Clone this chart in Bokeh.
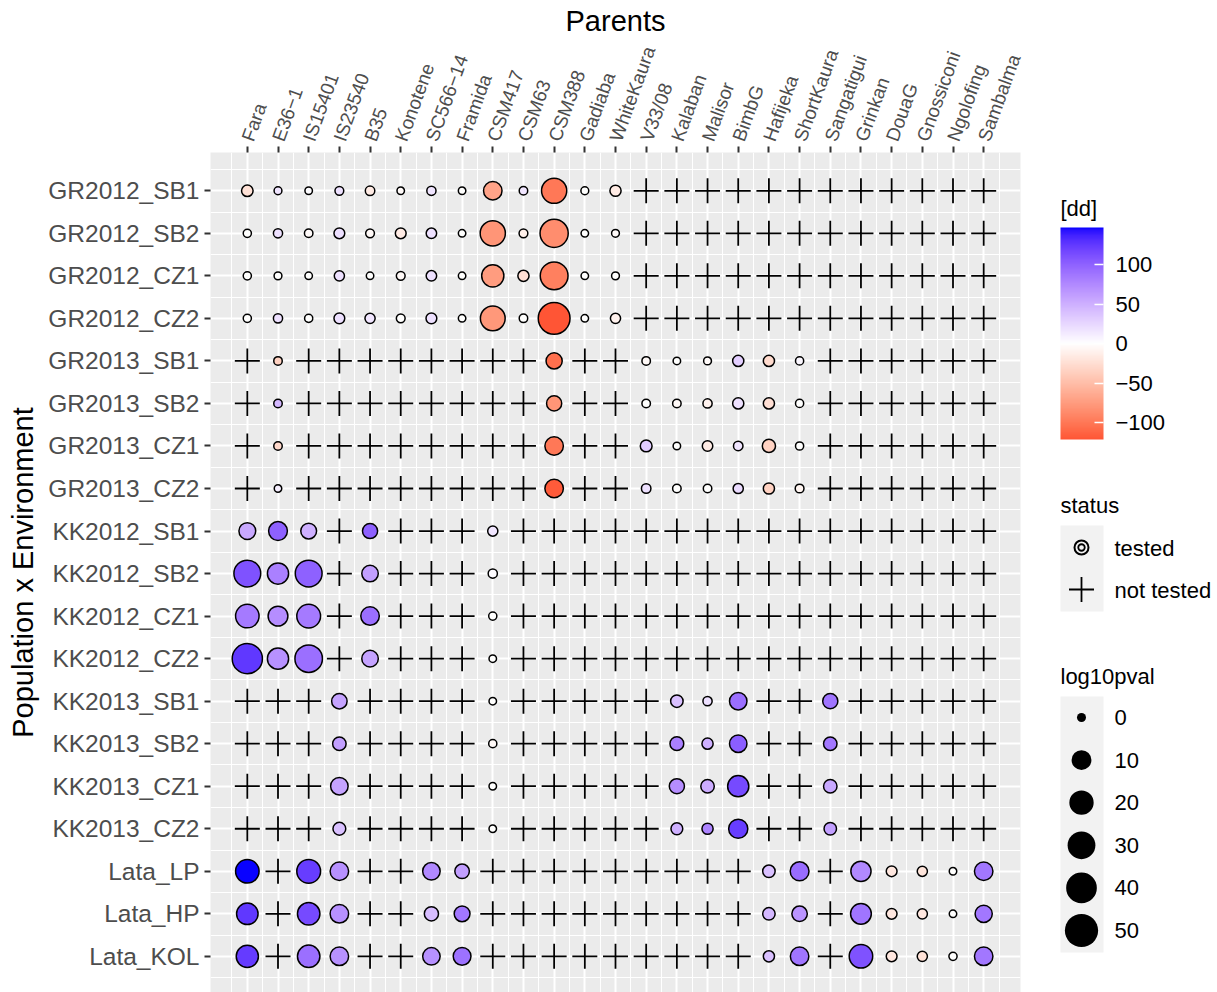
import math
from bokeh.plotting import figure
from bokeh.layouts import row
from bokeh.models import (ColumnDataSource, FixedTicker, Range1d, LinearColorMapper,
                          ColorBar)
from bokeh.transform import transform
from bokeh.core.properties import value
from bokeh.embed import file_html
from bokeh.resources import INLINE

FONT = "Liberation Sans"

# ---- categories -------------------------------------------------------------
parents = ["Fara", "E36\u22121", "IS15401", "IS23540", "B35", "Konotene", "SC566\u221214",
           "Framida", "CSM417", "CSM63", "CSM388", "Gadiaba", "WhiteKaura", "V33/08",
           "Kalaban", "Malisor", "BimbG", "Hafijeka", "ShortKaura", "Sangatigui",
           "Grinkan", "DouaG", "Gnossiconi", "Ngolofing", "Sambalma"]

envs = ["GR2012_SB1", "GR2012_SB2", "GR2012_CZ1", "GR2012_CZ2",
        "GR2013_SB1", "GR2013_SB2", "GR2013_CZ1", "GR2013_CZ2",
        "KK2012_SB1", "KK2012_SB2", "KK2012_CZ1", "KK2012_CZ2",
        "KK2013_SB1", "KK2013_SB2", "KK2013_CZ1", "KK2013_CZ2",
        "Lata_LP", "Lata_HP", "Lata_KOL"]

# ---- tested parents per population, with dd and -log10(p) per environment ----
gr2012_envs = ["GR2012_SB1", "GR2012_SB2", "GR2012_CZ1", "GR2012_CZ2"]
gr2012_parents = parents[:13]
gr2012_dd = [
    [-22, 16, 2, 18, -15, -3, 16, 0, -70, 15, -100, 0, -15],
    [0, 18, -3, 20, -5, -15, 18, 0, -80, -12, -85, 0, -3],
    [0, 0, 0, 18, 0, -5, 18, 0, -75, -25, -95, 0, 0],
    [0, 18, 0, 20, 15, 0, 18, 0, -78, 0, -121.5, 0, -10],
]
gr2012_lp = [
    [1.4, 0.01, 0, 0.14, 0.34, 0, 0.25, 0, 10.3, 0.085, 26.6, 0.01, 1.16],
    [0.04, 0.25, 0.085, 0.93, 0.14, 0.93, 0.76, 0, 26.6, 0.14, 36.4, 0, 0.01],
    [0.04, 0.01, 0, 0.62, 0, 0.14, 0.76, 0, 18.4, 1.16, 35.0, 0, 0.01],
    [0.04, 0.25, 0.04, 0.93, 0.62, 0.14, 0.93, 0, 25.4, 0.085, 50.2, 0, 0.62],
]

gr2013_envs = ["GR2013_SB1", "GR2013_SB2", "GR2013_CZ1", "GR2013_CZ2"]
gr2013_parents = ["E36\u22121", "CSM388", "V33/08", "Kalaban", "Malisor", "BimbG",
                  "Hafijeka", "ShortKaura"]
gr2013_dd = [
    [-35, -105, -5, 0, -4, 30, -28, 5],
    [45, -80, 0, -5, -10, 18, -25, 0],
    [-30, -100, 32, 0, -15, 16, -35, 0],
    [10, -118, 18, 0, 0, 22, -35, -8],
]
gr2013_lp = [
    [0.085, 6.4, 0.085, 0, 0.01, 1.16, 1.16, 0.04],
    [0.085, 5.0, 0.085, 0.085, 0.25, 1.16, 1.16, 0.04],
    [0.085, 10.3, 1.57, 0, 0.76, 0.34, 2.76, 0.04],
    [0, 10.3, 0.34, 0.085, 0.085, 0.62, 1.16, 0.14],
]

kk2012_envs = ["KK2012_SB1", "KK2012_SB2", "KK2012_CZ1", "KK2012_CZ2"]
kk2012_parents = ["Fara", "E36\u22121", "IS15401", "B35", "CSM417"]
kk2012_dd = [
    [55, 100, 50, 100, 15],
    [110, 80, 100, 60, 3],
    [85, 72, 85, 92, 0],
    [125, 70, 92, 58, 0],
]
kk2012_lp = [
    [7.35, 10.9, 5.9, 5.0, 0.62],
    [31.7, 16.0, 31.7, 6.9, 0.25],
    [21.8, 12.9, 22.6, 10.3, 0.04],
    [43.8, 16.0, 34.0, 6.9, 0],
]

kk2013_envs = ["KK2013_SB1", "KK2013_SB2", "KK2013_CZ1", "KK2013_CZ2"]
kk2013_parents = ["IS23540", "CSM417", "Kalaban", "Malisor", "BimbG", "Sangatigui"]
kk2013_dd = [
    [58, 0, 40, 20, 92, 88],
    [60, -5, 80, 50, 102, 87],
    [58, 0, 72, 52, 115, 55],
    [40, 0, 50, 78, 122, 60],
]
kk2013_lp = [
    [5.4, 0, 2.1, 0.25, 8.5, 5.0],
    [3.06, 0.04, 3.37, 1.16, 8.5, 3.06],
    [8.5, 0, 5.0, 3.06, 16.0, 3.06],
    [2.4, 0, 1.57, 1.16, 11.6, 2.1],
]

lata_envs = ["Lata_LP", "Lata_HP", "Lata_KOL"]
lata_parents = ["Fara", "IS15401", "IS23540", "SC566\u221214", "Framida", "Hafijeka",
                "ShortKaura", "Grinkan", "DouaG", "Gnossiconi", "Ngolofing", "Sambalma"]
lata_dd = [
    [147, 122, 70, 75, 60, 40, 93, 75, -18, -20, 0, 87],
    [125, 115, 70, 42, 87, 45, 68, 88, -18, -18, 0, 87],
    [123, 92, 70, 70, 90, 40, 88, 110, -18, -22, 0, 87],
]
lata_lp = [
    [21.8, 22.6, 10.3, 8.5, 4.2, 2.1, 10.9, 13.7, 0.93, 0.62, 0, 10.3],
    [16.7, 19.1, 10.3, 3.8, 5.9, 2.1, 5.4, 15.0, 0.93, 0.62, 0, 8.0],
    [18.4, 19.1, 10.3, 8.5, 9.0, 1.16, 10.3, 21.8, 0.93, 0.62, 0.04, 10.3],
]

size_breaks = [0, 10, 20, 30, 40, 50]
dd_breaks = [-100, -50, 0, 50, 100]

groups = [
    (gr2012_envs, gr2012_parents, gr2012_dd, gr2012_lp),
    (gr2013_envs, gr2013_parents, gr2013_dd, gr2013_lp),
    (kk2012_envs, kk2012_parents, kk2012_dd, kk2012_lp),
    (kk2013_envs, kk2013_parents, kk2013_dd, kk2013_lp),
    (lata_envs, lata_parents, lata_dd, lata_lp),
]

# ---- diverging red-white-blue scale, interpolated in CIE Lab ----------------
def _lin(c):
    c = c / 255.0
    return c / 12.92 if c <= 0.04045 else ((c + 0.055) / 1.055) ** 2.4

def _gam(c):
    c = max(0.0, min(1.0, c))
    v = 12.92 * c if c <= 0.0031308 else 1.055 * c ** (1 / 2.4) - 0.055
    return int(round(max(0.0, min(1.0, v)) * 255))

WN = (0.95047, 1.0, 1.08883)

def rgb_to_lab(rgb):
    r, g, b = (_lin(c) for c in rgb)
    X = 0.4124564 * r + 0.3575761 * g + 0.1804375 * b
    Y = 0.2126729 * r + 0.7151522 * g + 0.0721750 * b
    Z = 0.0193339 * r + 0.1191920 * g + 0.9503041 * b
    def f(t):
        return t ** (1 / 3) if t > (6 / 29) ** 3 else t / (3 * (6 / 29) ** 2) + 4 / 29
    fx, fy, fz = f(X / WN[0]), f(Y / WN[1]), f(Z / WN[2])
    return (116 * fy - 16, 500 * (fx - fy), 200 * (fy - fz))

def lab_to_hex(lab):
    L, a, b = lab
    fy = (L + 16) / 116
    fx = fy + a / 500
    fz = fy - b / 200
    def finv(t):
        return t ** 3 if t > 6 / 29 else 3 * (6 / 29) ** 2 * (t - 4 / 29)
    X, Y, Z = WN[0] * finv(fx), WN[1] * finv(fy), WN[2] * finv(fz)
    r = 3.2404542 * X - 1.5371385 * Y - 0.4985314 * Z
    g = -0.9692660 * X + 1.8760108 * Y + 0.0415560 * Z
    bb = 0.0556434 * X - 0.2040259 * Y + 1.0572252 * Z
    return "#%02X%02X%02X" % (_gam(r), _gam(g), _gam(bb))

LOW, MID, HIGH = rgb_to_lab((255, 0, 0)), rgb_to_lab((255, 255, 255)), rgb_to_lab((0, 0, 255))

all_dd = [v for g in groups for rowv in g[2] for v in rowv]
dd_min, dd_max = min(all_dd), max(all_dd)
span = max(abs(dd_min), abs(dd_max))

def dd_colour(v):
    t = v / span
    end = HIGH if t > 0 else LOW
    t = abs(t)
    return lab_to_hex(tuple(MID[i] + (end[i] - MID[i]) * t for i in range(3)))

NPAL = 256
palette = [dd_colour(dd_min + (i + 0.5) * (dd_max - dd_min) / NPAL) for i in range(NPAL)]
mapper = LinearColorMapper(palette=palette, low=dd_min, high=dd_max)

def point_size(lp):
    # visible diameter grows with the square root of -log10(p)
    return 9 + 3.43 * math.sqrt(lp)

# ---- long tables ------------------------------------------------------------
px = {name: i + 1 for i, name in enumerate(parents)}
ey = {name: len(envs) - 1 - i for i, name in enumerate(envs)}

t_x, t_y, t_dd, t_lp, t_sz = [], [], [], [], []
tested = set()
for g_envs, g_par, g_dd, g_lp in groups:
    for e, drow, lrow in zip(g_envs, g_dd, g_lp):
        for par, d, l in zip(g_par, drow, lrow):
            t_x.append(px[par]); t_y.append(ey[e]); t_dd.append(d); t_lp.append(l)
            t_sz.append(point_size(l) - 1.5)
            tested.add((e, par))

n_x, n_y = [], []
for e in envs:
    for par in parents:
        if (e, par) not in tested:
            n_x.append(px[par]); n_y.append(ey[e])

src_t = ColumnDataSource(dict(x=t_x, y=t_y, dd=t_dd, lp=t_lp, sz=t_sz))
src_n = ColumnDataSource(dict(x=n_x, y=n_y))

# ---- main panel -------------------------------------------------------------
nP, nE = len(parents), len(envs)
xpad = 0.05 * (nP - 1)
ypad = 0.05 * (nE - 1)
TOP = 152
p = figure(width=1040, height=992, output_backend="svg", toolbar_location=None,
           x_range=Range1d(1 - xpad, nP + xpad),
           y_range=Range1d(-0.85, nE - 1 + ypad),
           x_axis_location="above",
           min_border_left=210, min_border_top=TOP, min_border_right=20,
           min_border_bottom=0)
p.background_fill_color = "#EBEBEB"
p.border_fill_color = "white"
p.outline_line_color = None

p.xaxis.ticker = FixedTicker(ticks=list(range(1, nP + 1)),
                             minor_ticks=[i + 0.5 for i in range(0, nP + 1)])
p.xaxis.major_label_overrides = {i + 1: name for i, name in enumerate(parents)}
p.xaxis.major_label_orientation = math.radians(70)
p.xaxis.axis_label = "Parents"

p.yaxis.ticker = FixedTicker(ticks=list(range(0, nE)),
                             minor_ticks=[i - 0.5 for i in range(0, nE + 1)])
p.yaxis.major_label_overrides = {ey[e]: e for e in envs}
p.yaxis.axis_label = "Population x Environment"

for ax in (p.xaxis[0], p.yaxis[0]):
    ax.axis_line_color = None
    ax.major_tick_line_color = "#333333"
    ax.major_tick_line_width = 2
    ax.major_tick_out = 6
    ax.major_tick_in = 0
    ax.minor_tick_out = 0
    ax.minor_tick_in = 0
    ax.major_label_text_font = FONT
    ax.major_label_text_color = "#4D4D4D"
    ax.axis_label_text_font = FONT
    ax.axis_label_text_font_style = "normal"
    ax.axis_label_text_font_size = "29px"
    ax.axis_label_text_color = "black"
    ax.major_label_standoff = 5
p.xaxis.major_label_text_font_size = "19px"
p.xaxis.major_label_standoff = 6
p.xaxis.axis_label_standoff = 0
p.yaxis.major_label_text_font_size = "24.5px"
p.yaxis.axis_label_standoff = 6

for gr in (p.xgrid[0], p.ygrid[0]):
    gr.grid_line_color = "white"
    gr.grid_line_width = 2
    gr.minor_grid_line_color = "white"
    gr.minor_grid_line_width = 1

p.scatter("x", "y", source=src_n, marker="cross", size=25, line_color="black",
          line_width=1.8)
p.scatter("x", "y", source=src_t, marker="circle", size="sz",
          fill_color=transform("dd", mapper), line_color="black", line_width=1.5)

# ---- legend column (y in page pixels, frame aligned with the panel) --------
q = figure(width=177, height=992, output_backend="svg", toolbar_location=None,
           x_range=Range1d(1040, 1217), y_range=Range1d(992, TOP),
           x_axis_location=None, y_axis_location=None,
           min_border_left=0, min_border_right=0, min_border_top=TOP,
           min_border_bottom=0)
q.grid.visible = False
q.outline_line_color = None
q.background_fill_color = "white"
q.border_fill_color = "white"

BAR_L, BAR_W, BAR_TOP, BAR_H = 1060, 43, 227, 212
cb = ColorBar(color_mapper=mapper, ticker=FixedTicker(ticks=dd_breaks),
              major_label_overrides={-100: "\u2212100", -50: "\u221250"},
              width=BAR_W, height=BAR_H, location=(BAR_L - 1040, 992 - BAR_TOP - BAR_H),
              padding=0, title=None,
              major_label_text_font=FONT, major_label_text_font_size="22px",
              major_label_text_color="black", label_standoff=12,
              major_tick_line_color="white", major_tick_line_width=1.5,
              major_tick_in=9, major_tick_out=0, minor_tick_line_color=None,
              bar_line_color=None, border_line_color=None,
              background_fill_alpha=0)
q.add_layout(cb, "center")

# white tick marks on the left edge of the bar, at the same break values
tick_y = [BAR_TOP + BAR_H * (dd_max - b) / (dd_max - dd_min) for b in dd_breaks]
q.segment(x0=[BAR_L] * len(tick_y), x1=[BAR_L + 9] * len(tick_y), y0=tick_y, y1=tick_y,
          line_color="white", line_width=1.5)
q.text([1060], [208], text=["[dd]"], text_font=value(FONT), text_font_size="22px",
       text_baseline="middle", text_align="left", text_color="black")

KX, LX = 1081, 1114
# status keys
q.quad(left=[1060], right=[1103], top=[525], bottom=[611], fill_color="#F2F2F2", line_color=None)
q.scatter([KX], [547], marker="circle", size=14, fill_color=None, line_color="black", line_width=2)
q.scatter([KX], [547], marker="circle", size=6.5, fill_color=None, line_color="black", line_width=1.8)
q.scatter([KX], [589], marker="cross", size=25, line_color="black", line_width=1.8)
q.text([1060, LX, LX], [505, 548, 590], text=["status", "tested", "not tested"],
       text_font=value(FONT), text_font_size="22px", text_baseline="middle",
       text_align="left", text_color="black")

# size keys
key_y = [717 + 42.6 * i for i in range(len(size_breaks))]
q.quad(left=[1060], right=[1103], top=[696], bottom=[952], fill_color="#F2F2F2", line_color=None)
q.scatter([KX] * len(size_breaks), key_y, marker="circle",
          size=[point_size(b) for b in size_breaks], fill_color="black", line_color=None)
q.text([1060], [676], text=["log10pval"], text_font=value(FONT), text_font_size="22px",
       text_baseline="middle", text_align="left", text_color="black")
q.text([LX] * len(size_breaks), key_y, text=[str(b) for b in size_breaks],
       text_font=value(FONT), text_font_size="22px", text_baseline="middle",
       text_align="left", text_color="black")

layout = row(p, q, spacing=0)
open("out.html", "w").write(file_html(layout, INLINE))
